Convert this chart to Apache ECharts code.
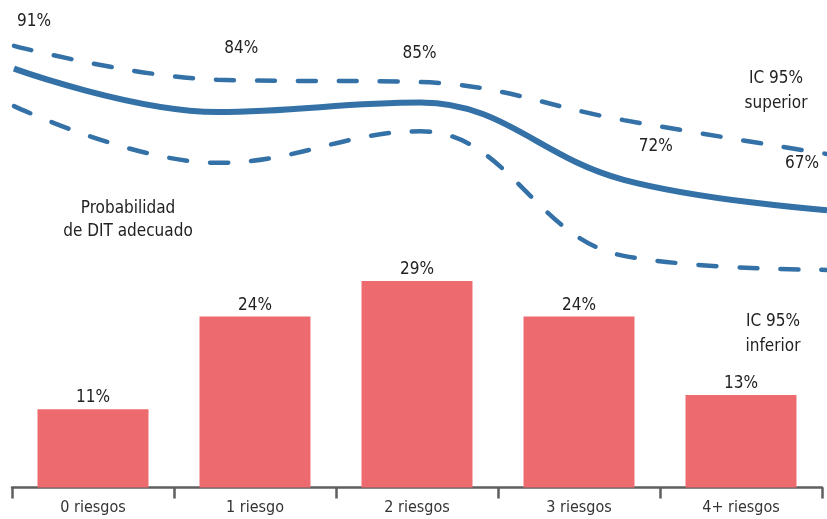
<!DOCTYPE html>
<html>
<head>
<meta charset="utf-8">
<script src="https://cdn.jsdelivr.net/npm/echarts@6/dist/echarts.min.js"></script>
<style>
	html,body{margin:0;padding:0;background:#fff;}
	#main{width:827px;height:519px;}
</style>
</head>
<body>
<div id="main"></div>
<script>
// categorias y valores
var categorias = ['0 riesgos', '1 riesgo', '2 riesgos', '3 riesgos', '4+ riesgos'];
var riesgoBarras = [11, 24, 29, 24, 13];
var probDIT = [91, 83.6, 85.2, 72, 66.8];
var icSuperior = [94.9, 89.1, 88.7, 82.2, 76.4];
var icInferior = [84.6, 74.9, 80.3, 59.0, 56.6];
// desplazamiento de las etiquetas de la linea principal
var etiquetaOffset = [[20, -47], [24, -63], [-1, -49], [32, -33], [-25, -47]];

var fuente = '"DejaVu Sans Condensed", sans-serif';
var azul = '#3471a7';
var suave = 0.4;

var chart = echarts.init(document.getElementById('main'));
chart.setOption({
	animation: false,
	grid: [
		{left: 12, right: 5, top: 17.5, bottom: 31.5},
		{left: 14, right: 0, top: 16, bottom: 210.5}
	],
	xAxis: [
		{
			type: 'category',
			gridIndex: 0,
			data: categorias,
			axisLine: {lineStyle: {color: '#5f5f5f', width: 2.5}},
			axisTick: {show: true, length: 11, lineStyle: {color: '#5f5f5f', width: 2.5}},
			axisLabel: {color: '#333', fontFamily: fuente, fontSize: 16, margin: 12}
		},
		{
			type: 'category',
			gridIndex: 1,
			boundaryGap: false,
			data: categorias,
			show: false
		}
	],
	yAxis: [
		{type: 'value', gridIndex: 0, min: 0, max: 66, show: false},
		{type: 'value', gridIndex: 1, min: 50, max: 100, show: false}
	],
	series: [
		{
			name: 'riesgos',
			type: 'bar',
			xAxisIndex: 0,
			yAxisIndex: 0,
			barWidth: '68.5%',
			itemStyle: {color: '#ed6b6f'},
			label: {
				show: true,
				position: 'top',
				distance: 3,
				color: '#222',
				fontFamily: fuente,
				fontSize: 17,
				formatter: '{c}%'
			},
			z: 1,
			data: riesgoBarras
		},
		{
			name: 'IC 95% superior',
			type: 'line',
			xAxisIndex: 1,
			yAxisIndex: 1,
			smooth: suave,
			symbol: 'none',
			lineStyle: {color: azul, width: 4.5, type: [18, 23], cap: 'round'},
			data: icSuperior
		},
		{
			name: 'IC 95% inferior',
			type: 'line',
			xAxisIndex: 1,
			yAxisIndex: 1,
			smooth: suave,
			symbol: 'none',
			lineStyle: {color: azul, width: 4.5, type: [18, 23], cap: 'round'},
			data: icInferior
		},
		{
			name: 'Probabilidad de DIT adecuado',
			type: 'line',
			xAxisIndex: 1,
			yAxisIndex: 1,
			smooth: suave,
			symbol: 'circle',
			symbolSize: 1,
			showSymbol: true,
			lineStyle: {color: azul, width: 6},
			itemStyle: {color: azul},
			label: {
				show: true,
				position: 'inside',
				color: '#222',
				fontFamily: fuente,
				fontSize: 17,
				formatter: function (p) { return Math.round(p.value) + '%'; }
			},
			data: probDIT.map(function (v, i) {
				return {value: v, label: {offset: etiquetaOffset[i]}};
			})
		}
	],
	graphic: [
		{
			type: 'text', x: 128, y: 197,
			style: {
				text: 'Probabilidad\nde DIT adecuado', textAlign: 'center',
				fill: '#222', font: '17px ' + fuente, lineHeight: 23
			}
		},
		{
			type: 'text', x: 776, y: 66,
			style: {
				text: 'IC 95%\nsuperior', textAlign: 'center',
				fill: '#222', font: '17px ' + fuente, lineHeight: 25
			}
		},
		{
			type: 'text', x: 773, y: 309,
			style: {
				text: 'IC 95%\ninferior', textAlign: 'center',
				fill: '#222', font: '17px ' + fuente, lineHeight: 25
			}
		}
	]
});
</script>
</body>
</html>
